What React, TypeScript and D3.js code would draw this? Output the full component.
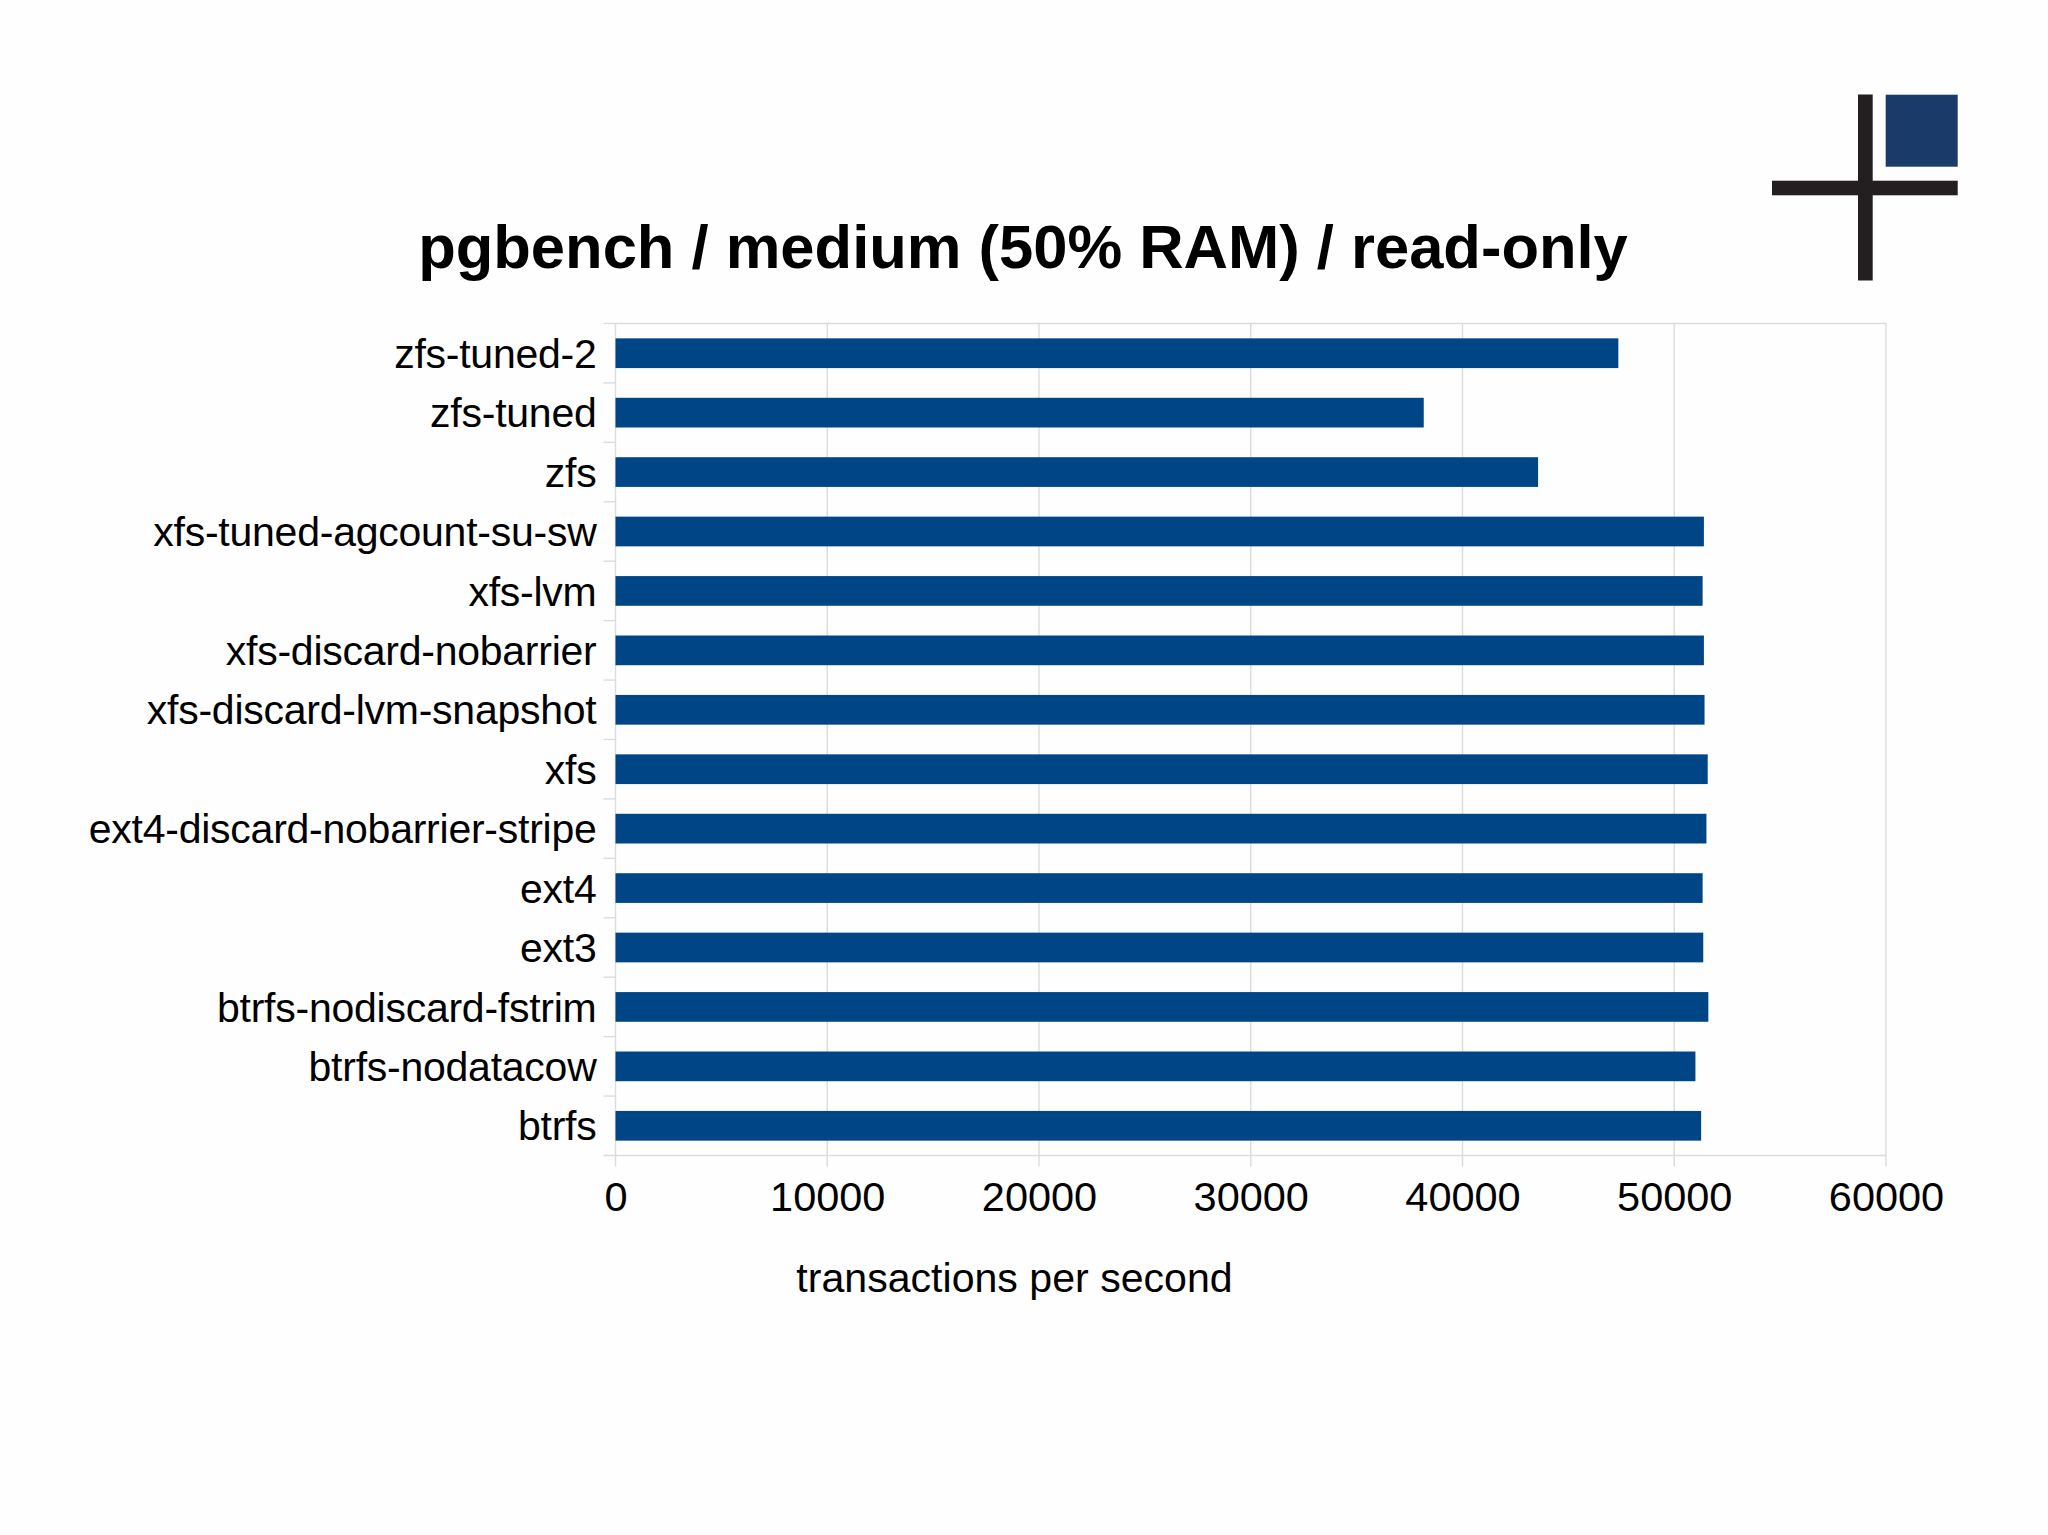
import { useEffect, useRef } from 'react';
import * as d3 from 'd3';

const categories = [
  'zfs-tuned-2',
  'zfs-tuned',
  'zfs',
  'xfs-tuned-agcount-su-sw',
  'xfs-lvm',
  'xfs-discard-nobarrier',
  'xfs-discard-lvm-snapshot',
  'xfs',
  'ext4-discard-nobarrier-stripe',
  'ext4',
  'ext3',
  'btrfs-nodiscard-fstrim',
  'btrfs-nodatacow',
  'btrfs',
];
const tps = [47360, 38170, 43570, 51400, 51340, 51400, 51430, 51580, 51520, 51340, 51370, 51610, 51000, 51270];
const xTicks = [0, 10000, 20000, 30000, 40000, 50000, 60000];

const titleText = 'pgbench / medium (50% RAM) / read-only';
const xLabel = 'transactions per second';

const width = 2048;
const height = 1535;
const margin = { top: 323.5, right: 162, bottom: 379.5, left: 615.5 };

export default function App() {
  const svgRef = useRef<SVGSVGElement>(null);

  useEffect(() => {
    if (!svgRef.current) return;
    d3.select(svgRef.current).selectAll('*').remove();

    const svg = d3.select(svgRef.current);
    const font = '"Liberation Sans", Arial, sans-serif';
    const gridColor = '#dcdcdc';

    svg.append('rect').attr('width', width).attr('height', height).attr('fill', '#fefefe');

    const innerWidth = width - margin.left - margin.right;
    const innerHeight = height - margin.top - margin.bottom;

    const x = d3.scaleLinear().domain([0, 60000]).range([0, innerWidth]);
    const y = d3.scaleBand()
      .domain(categories)
      .range([0, innerHeight])
      .paddingInner(0.5)
      .paddingOuter(0.25);

    const g = svg.append('g').attr('transform', `translate(${margin.left},${margin.top})`);

    // Gridlines and plot frame
    g.append('g')
      .selectAll('line')
      .data(xTicks)
      .join('line')
      .attr('x1', d => x(d))
      .attr('x2', d => x(d))
      .attr('y1', 0)
      .attr('y2', innerHeight + 11)
      .attr('stroke', gridColor)
      .attr('stroke-width', 1.4);

    g.append('line')
      .attr('x1', 0)
      .attr('x2', innerWidth)
      .attr('y1', 0)
      .attr('y2', 0)
      .attr('stroke', gridColor)
      .attr('stroke-width', 1.4);

    // Category separators stick out to the left of the plot
    const boundaries = categories.map(c => (y(c) || 0) - y.step() * 0.25).concat(innerHeight);
    g.append('g')
      .selectAll('line')
      .data(boundaries)
      .join('line')
      .attr('x1', -12)
      .attr('x2', (_, i) => (i === boundaries.length - 1 ? innerWidth : 0))
      .attr('y1', d => d)
      .attr('y2', d => d)
      .attr('stroke', gridColor)
      .attr('stroke-width', 1.4);

    // Bars
    g.selectAll('rect.bar')
      .data(categories)
      .join('rect')
      .attr('class', 'bar')
      .attr('x', 0)
      .attr('y', d => y(d) || 0)
      .attr('width', (_, i) => x(tps[i]))
      .attr('height', y.bandwidth())
      .attr('fill', '#004586');

    // X axis labels
    const xAxis = g.append('g')
      .attr('transform', `translate(0,${innerHeight})`)
      .call(d3.axisBottom(x).tickValues(xTicks).tickFormat(d => `${d}`).tickSize(0).tickPadding(26));
    xAxis.select('.domain').remove();
    xAxis.selectAll('text')
      .attr('font-family', font)
      .attr('font-size', 41.5)
      .attr('fill', '#000');

    // Y axis labels
    const yAxis = g.append('g')
      .attr('transform', 'translate(0,1.5)')
      .call(d3.axisLeft(y).tickSize(0).tickPadding(19));
    yAxis.select('.domain').remove();
    yAxis.selectAll('text')
      .attr('font-family', font)
      .attr('font-size', 41)
      .attr('letter-spacing', -0.25)
      .attr('fill', '#000');

    // Title
    svg.append('text')
      .attr('x', 1023)
      .attr('y', 267.5)
      .attr('text-anchor', 'middle')
      .attr('font-family', font)
      .attr('font-size', 61.5)
      .attr('font-weight', 'bold')
      .attr('fill', '#000')
      .text(titleText);

    svg.append('text')
      .attr('x', 1014.5)
      .attr('y', 1292)
      .attr('text-anchor', 'middle')
      .attr('font-family', font)
      .attr('font-size', 41.1)
      .attr('fill', '#000')
      .text(xLabel);

    // Logo
    const logo = svg.append('g');
    logo.append('rect').attr('x', 1885.7).attr('y', 94.7).attr('width', 72).attr('height', 72).attr('fill', '#1a3b6a');
    logo.append('rect').attr('x', 1858).attr('y', 94.5).attr('width', 14.7).attr('height', 186).attr('fill', '#231f20');
    logo.append('rect').attr('x', 1772).attr('y', 180.7).attr('width', 185.7).attr('height', 14.6).attr('fill', '#231f20');
  }, []);

  return (
    <svg
      ref={svgRef}
      width={width}
      height={height}
      style={{ position: 'absolute', left: 0, top: 0, display: 'block' }}
    />
  );
}
